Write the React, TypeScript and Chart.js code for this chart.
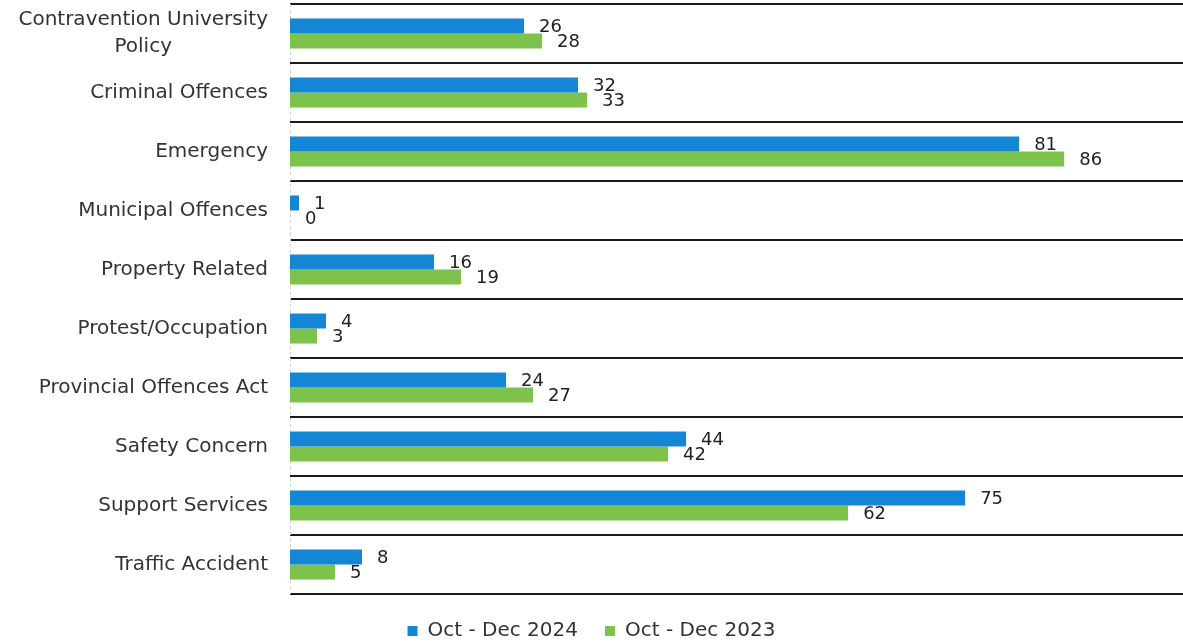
import React, { useEffect, useRef } from "react";
import { Chart, registerables } from "chart.js";

Chart.register(...registerables);

const categories: (string | string[])[] = [
  ["Contravention University", "Policy"],
  "Criminal Offences",
  "Emergency",
  "Municipal Offences",
  "Property Related",
  "Protest/Occupation",
  "Provincial Offences Act",
  "Safety Concern",
  "Support Services",
  "Traffic Accident",
];

const series2024Label = "Oct - Dec 2024";
const series2023Label = "Oct - Dec 2023";
const values2024 = [26, 32, 81, 1, 16, 4, 24, 44, 75, 8];
const values2023 = [28, 33, 86, 0, 19, 3, 27, 42, 62, 5];

const BLUE = "#1586D6";
const GREEN = "#7DC24B";
const FONT = "'DejaVu Sans', sans-serif";

const valueLabels = {
  id: "valueLabels",
  afterDatasetsDraw(chart: any) {
    const ctx = chart.ctx;
    ctx.save();
    ctx.font = `18px ${FONT}`;
    ctx.fillStyle = "#222";
    ctx.textAlign = "left";
    ctx.textBaseline = "middle";
    chart.data.datasets.forEach((ds: any, di: number) => {
      const meta = chart.getDatasetMeta(di);
      meta.data.forEach((el: any, i: number) => {
        ctx.fillText(String(ds.data[i]), el.x + 15, el.y + 1);
      });
    });
    ctx.restore();
  },
};

const categoryLabels = {
  id: "categoryLabels",
  beforeDatasetsDraw(chart: any) {
    const ctx = chart.ctx;
    const area = chart.chartArea;
    ctx.save();
    ctx.strokeStyle = "#cfcfcf";
    ctx.lineWidth = 1;
    ctx.setLineDash([3, 3]);
    ctx.beginPath();
    ctx.moveTo(area.left + 0.5, area.top);
    ctx.lineTo(area.left + 0.5, area.bottom);
    ctx.stroke();
    ctx.restore();
  },
  afterDraw(chart: any) {
    const ctx = chart.ctx;
    const y = chart.scales.y;
    const rightX = 268;
    const lineH = 27;
    ctx.save();
    ctx.font = `20px ${FONT}`;
    ctx.fillStyle = "#333";
    ctx.textBaseline = "middle";
    chart.data.labels.forEach((lab: any, i: number) => {
      const cy = y.getPixelForTick(i);
      const lines: string[] = Array.isArray(lab) ? lab : [lab];
      const widths = lines.map((l) => ctx.measureText(l).width);
      const maxW = Math.max(...widths);
      const cx = rightX - maxW / 2;
      ctx.textAlign = "center";
      lines.forEach((l, k) => {
        const ly = cy + (k - (lines.length - 1) / 2) * lineH;
        ctx.fillText(l, cx, ly);
      });
    });
    ctx.restore();
  },
};

export default function App() {
  const ref = useRef<HTMLCanvasElement | null>(null);
  useEffect(() => {
    if (!ref.current) return;
    const chart = new Chart(ref.current, {
      type: "bar",
      data: {
        labels: categories,
        datasets: [
          {
            label: series2024Label,
            data: values2024,
            backgroundColor: BLUE,
            borderWidth: 0,
            categoryPercentage: 0.51,
            barPercentage: 1.0,
          },
          {
            label: series2023Label,
            data: values2023,
            backgroundColor: GREEN,
            borderWidth: 0,
            categoryPercentage: 0.51,
            barPercentage: 1.0,
          },
        ],
      },
      options: {
        indexAxis: "y",
        responsive: false,
        animation: false,
        layout: { padding: { top: 4, left: 0, right: 0, bottom: 0 } },
        scales: {
          x: {
            display: false,
            min: 0,
            max: 99.2,
          },
          y: {
            afterFit: (s: any) => {
              s.width = 290;
            },
            ticks: { display: false },
            grid: {
              color: "#1a1a1a",
              lineWidth: 2,
              drawTicks: false,
              offset: true,
            },
            border: { display: false },
          },
        },
        plugins: {
          tooltip: { enabled: false },
          legend: {
            position: "bottom",
            maxHeight: 49,
            labels: {
              boxWidth: 10,
              boxHeight: 10,
              padding: 27,
              color: "#333",
              font: { family: FONT, size: 20 },
            },
          },
        },
      },
      plugins: [valueLabels, categoryLabels],
    } as any);
    return () => chart.destroy();
  }, []);
  return (
    <div style={{ position: "fixed", left: 0, top: 0, width: 1183, height: 643, background: "#fff" }}>
      <canvas ref={ref} width={1183} height={643} style={{ display: "block" }} />
    </div>
  );
}
